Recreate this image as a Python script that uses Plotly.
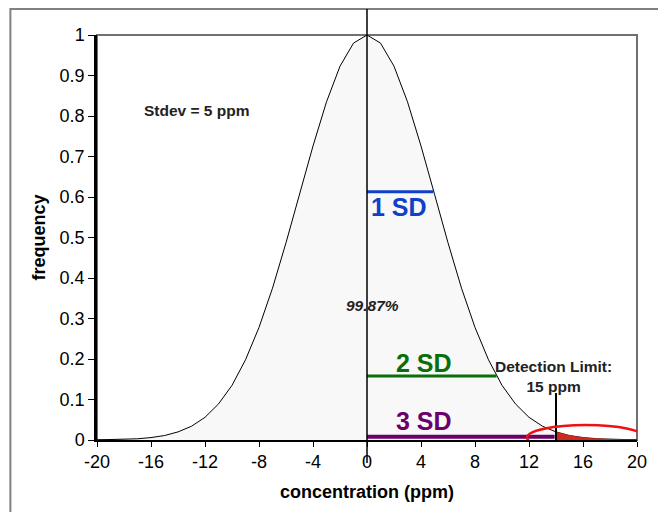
import plotly.graph_objects as go

# Data
conc = list(range(-20, 21))
freq = [0.0003, 0.0007, 0.0015, 0.003, 0.006, 0.011, 0.020, 0.034, 0.056, 0.089,
        0.135, 0.198, 0.278, 0.375, 0.487, 0.607, 0.726, 0.835, 0.923, 0.980,
        1.0,
        0.980, 0.923, 0.835, 0.726, 0.607, 0.487, 0.375, 0.278, 0.198, 0.135,
        0.089, 0.056, 0.034, 0.020, 0.011, 0.006, 0.003, 0.0015, 0.0007, 0.0003]

tail_x = [14, 15, 16, 17, 18, 19, 20]
tail_y = [0.020, 0.011, 0.006, 0.003, 0.0015, 0.0007, 0.0003]

sd_labels = ["1 SD", "2 SD", "3 SD"]
sd_levels = [0.613, 0.158, 0.008]
sd_ends = [4.9, 9.6, 13.9]
sd_colors = ["#1040C8", "#0A6E0A", "#6B006B"]
sd_text_x = [2.4, 4.2, 4.2]
sd_text_y = [0.575, 0.19, 0.046]

x_ticks = list(range(-20, 21, 4))
y_ticks = [round(i * 0.1, 1) for i in range(11)]
detection_limit = 14

FONT = "Liberation Sans, Arial"

fig = go.Figure()

fig.add_trace(go.Scatter(x=conc, y=freq, mode="lines", fill="tozeroy",
                         fillcolor="#F8F8F8", line=dict(color="black", width=1),
                         hoverinfo="skip", showlegend=False))
fig.add_trace(go.Scatter(x=tail_x, y=tail_y, mode="lines", fill="tozeroy",
                         fillcolor="#D0281C", line=dict(color="#D0281C", width=0.5),
                         showlegend=False))

for lab, lv, xe, col, tx, ty in zip(sd_labels, sd_levels, sd_ends, sd_colors, sd_text_x, sd_text_y):
    fig.add_trace(go.Scatter(x=[0, xe], y=[lv, lv], mode="lines",
                             line=dict(color=col, width=4 if lab == "3 SD" else 3),
                             showlegend=False))
    fig.add_annotation(x=tx, y=ty, text="<b>" + lab + "</b>", showarrow=False,
                       font=dict(family=FONT, size=25, color=col))

# frames
fig.add_shape(type="rect", xref="paper", yref="paper", x0=-0.1604, x1=1.2, y0=-0.3, y1=1.064,
              line=dict(color="#808080", width=2), layer="below")
fig.add_shape(type="rect", xref="paper", yref="paper", x0=0, x1=1, y0=0, y1=1,
              line=dict(color="#707070", width=2), layer="below")
# vertical line at zero
fig.add_shape(type="line", xref="x", yref="paper", x0=0, x1=0, y0=-0.057, y1=1.064,
              line=dict(color="black", width=1.5))
# detection limit
fig.add_shape(type="line", xref="x", yref="y", x0=detection_limit, x1=detection_limit,
              y0=-0.037, y1=0.116, line=dict(color="black", width=2))
# ellipse
fig.add_shape(type="circle", xref="x", yref="y", x0=11.85, x1=20.6, y0=-0.025, y1=0.037,
              line=dict(color="#EE1111", width=2.5))

fig.add_annotation(x=0.4, y=0.332, text="<b><i>99.87%</i></b>", showarrow=False,
                   font=dict(family=FONT, size=15.5, color="#222"))
fig.add_annotation(x=-12.6, y=0.814, text="<b>Stdev = 5 ppm</b>", showarrow=False,
                   font=dict(family=FONT, size=15.5, color="#222"))
fig.add_annotation(x=13.8, y=0.158, text="<b>Detection Limit:<br>15 ppm</b>", showarrow=False,
                   font=dict(family=FONT, size=15.5, color="#222"))

fig.update_layout(
    width=650, height=504,
    margin=dict(l=89, r=11, t=27, b=72),
    paper_bgcolor="white", plot_bgcolor="white",
    font=dict(family=FONT, size=18, color="black"),
    showlegend=False,
    xaxis=dict(range=[-20, 20], tickvals=x_ticks, ticktext=[str(v) for v in x_ticks],
               ticks="outside", ticklen=5,
               tickcolor="black", showgrid=False, zeroline=False, showline=True,
               linecolor="black", linewidth=1.5, tickfont=dict(size=18),
               title=dict(text="<b>concentration (ppm)</b>", font=dict(size=18), standoff=14)),
    yaxis=dict(range=[0, 1], tickvals=y_ticks, ticktext=[("%g" % v) for v in y_ticks],
               ticks="outside", ticklen=6, tickcolor="black", showgrid=False,
               zeroline=False, showline=True, linecolor="black", linewidth=2.5,
               tickfont=dict(size=18),
               title=dict(text="<b>frequency</b>", font=dict(size=18), standoff=10)),
)

fig.write_html("out.html")
